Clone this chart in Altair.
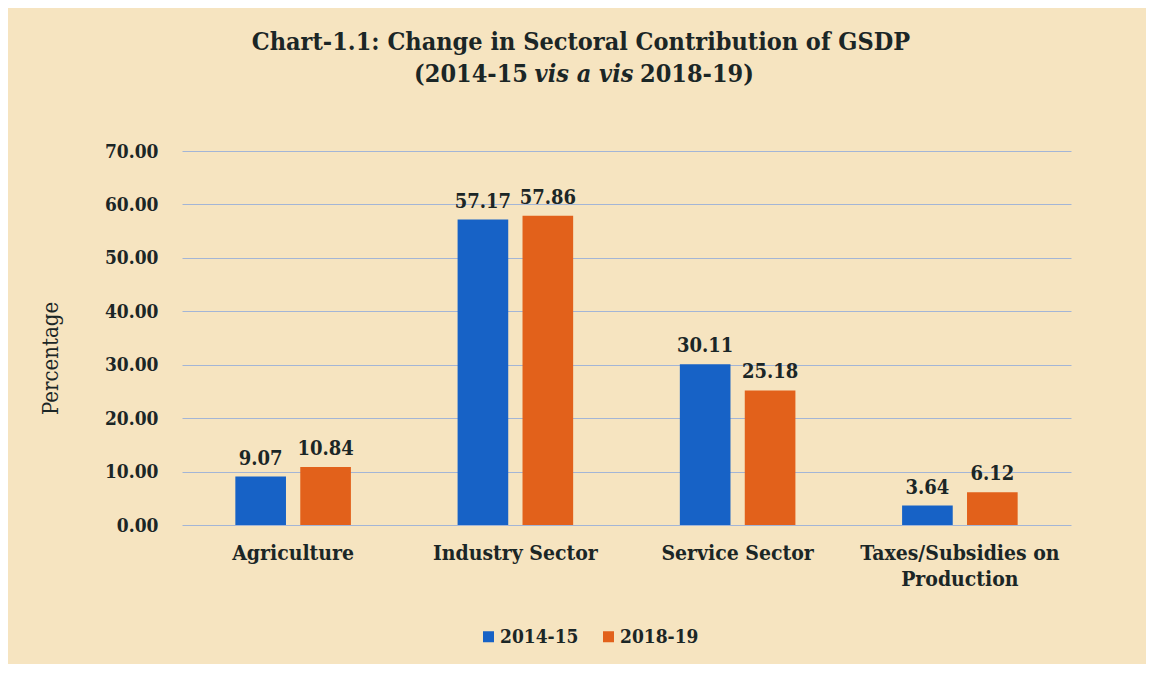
import altair as alt
import pandas as pd

categories = ["Agriculture", "Industry Sector", "Service Sector", "Taxes/Subsidies on Production"]
years = ["2014-15", "2018-19"]
values_2014 = [9.07, 57.17, 30.11, 3.64]
values_2018 = [10.84, 57.86, 25.18, 6.12]
y_ticks = [0, 10, 20, 30, 40, 50, 60, 70]

rows = []
for c, a, b in zip(categories, values_2014, values_2018):
    rows.append({"Sector": c, "Year": years[0], "Value": a})
    rows.append({"Sector": c, "Year": years[1], "Value": b})
df = pd.DataFrame(rows)

FONT = "DejaVu Serif Condensed"
INK = "#1b2626"
GRID = "#a3b5d6"
colors = ["#1762c6", "#e2611b"]

x = alt.X(
    "Sector:N",
    sort=categories,
    scale=alt.Scale(paddingInner=0.48, paddingOuter=0.24),
    axis=alt.Axis(
        title=None, labelAngle=0, labelFont=FONT, labelFontSize=21,
        labelFontWeight="bold", labelColor=INK, labelPadding=17,
        labelLineHeight=26, labelLimit=400, ticks=False, domain=False,
        labelExpr="datum.value == 'Taxes/Subsidies on Production' ? ['Taxes/Subsidies on', 'Production'] : datum.label",
    ),
)
y = alt.Y(
    "Value:Q",
    scale=alt.Scale(domain=[0, 70], nice=False),
    axis=alt.Axis(
        values=y_ticks, format=".2f", title="Percentage", titleFont=FONT,
        titleFontSize=22, titleFontWeight="normal", titleColor=INK,
        titleX=-125, titleY=207, titleBaseline="alphabetic",
        labelFont=FONT, labelFontSize=19, labelFontWeight="bold",
        labelColor=INK, labelPadding=24, ticks=False, domain=False,
        grid=True, gridColor=GRID, gridWidth=1.2,
    ),
)
xoff = alt.XOffset("Year:N", sort=years, scale=alt.Scale(paddingInner=0.22, paddingOuter=0))
color = alt.Color(
    "Year:N",
    sort=years,
    scale=alt.Scale(domain=years, range=colors),
    legend=alt.Legend(
        title=None, orient="none", legendX=297, legendY=476, direction="horizontal",
        symbolType="square", symbolSize=121, symbolStrokeWidth=0, labelFont=FONT,
        labelFontSize=19, labelFontWeight="bold", labelColor=INK, columnPadding=20,
        labelOffset=2, labelLimit=300,
    ),
)

bars = alt.Chart(df).mark_bar().encode(x=x, y=y, xOffset=xoff, color=color)
labels = alt.Chart(df).mark_text(
    baseline="bottom", dy=-8, font=FONT, fontSize=20, fontWeight="bold", color=INK
).encode(x=x, y=y, xOffset=xoff, text=alt.Text("Value:Q", format=".2f"))

TS = 25
title1 = alt.Chart(pd.DataFrame({"t": ["Chart-1.1: Change in Sectoral Contribution of GSDP"]})).mark_text(
    font=FONT, fontSize=TS, fontWeight="bold", color=INK, align="center", baseline="alphabetic"
).encode(text="t:N", x=alt.value(399), y=alt.value(-101))
title2a = alt.Chart(pd.DataFrame({"t": ["(2014-15"]})).mark_text(
    font=FONT, fontSize=TS, fontWeight="bold", color=INK, align="right", baseline="alphabetic"
).encode(text="t:N", x=alt.value(346), y=alt.value(-69))
title2b = alt.Chart(pd.DataFrame({"t": ["vis a vis"]})).mark_text(
    font=FONT, fontSize=TS, fontWeight="bold", fontStyle="italic", color=INK, align="center", baseline="alphabetic"
).encode(text="t:N", x=alt.value(402), y=alt.value(-69))
title2c = alt.Chart(pd.DataFrame({"t": ["2018-19)"]})).mark_text(
    font=FONT, fontSize=TS, fontWeight="bold", color=INK, align="left", baseline="alphabetic"
).encode(text="t:N", x=alt.value(458), y=alt.value(-69))

chart = alt.layer(bars, labels, title1, title2a, title2b, title2c).properties(
    width=889, height=374,
    padding={"left": 174, "top": 143, "right": 75, "bottom": 139},
    autosize=alt.AutoSizeParams(type="none"),
    background="#f6e4c0",
).configure_view(stroke=None)

chart.save("out.html", embed_options={"renderer": "svg", "actions": False})
